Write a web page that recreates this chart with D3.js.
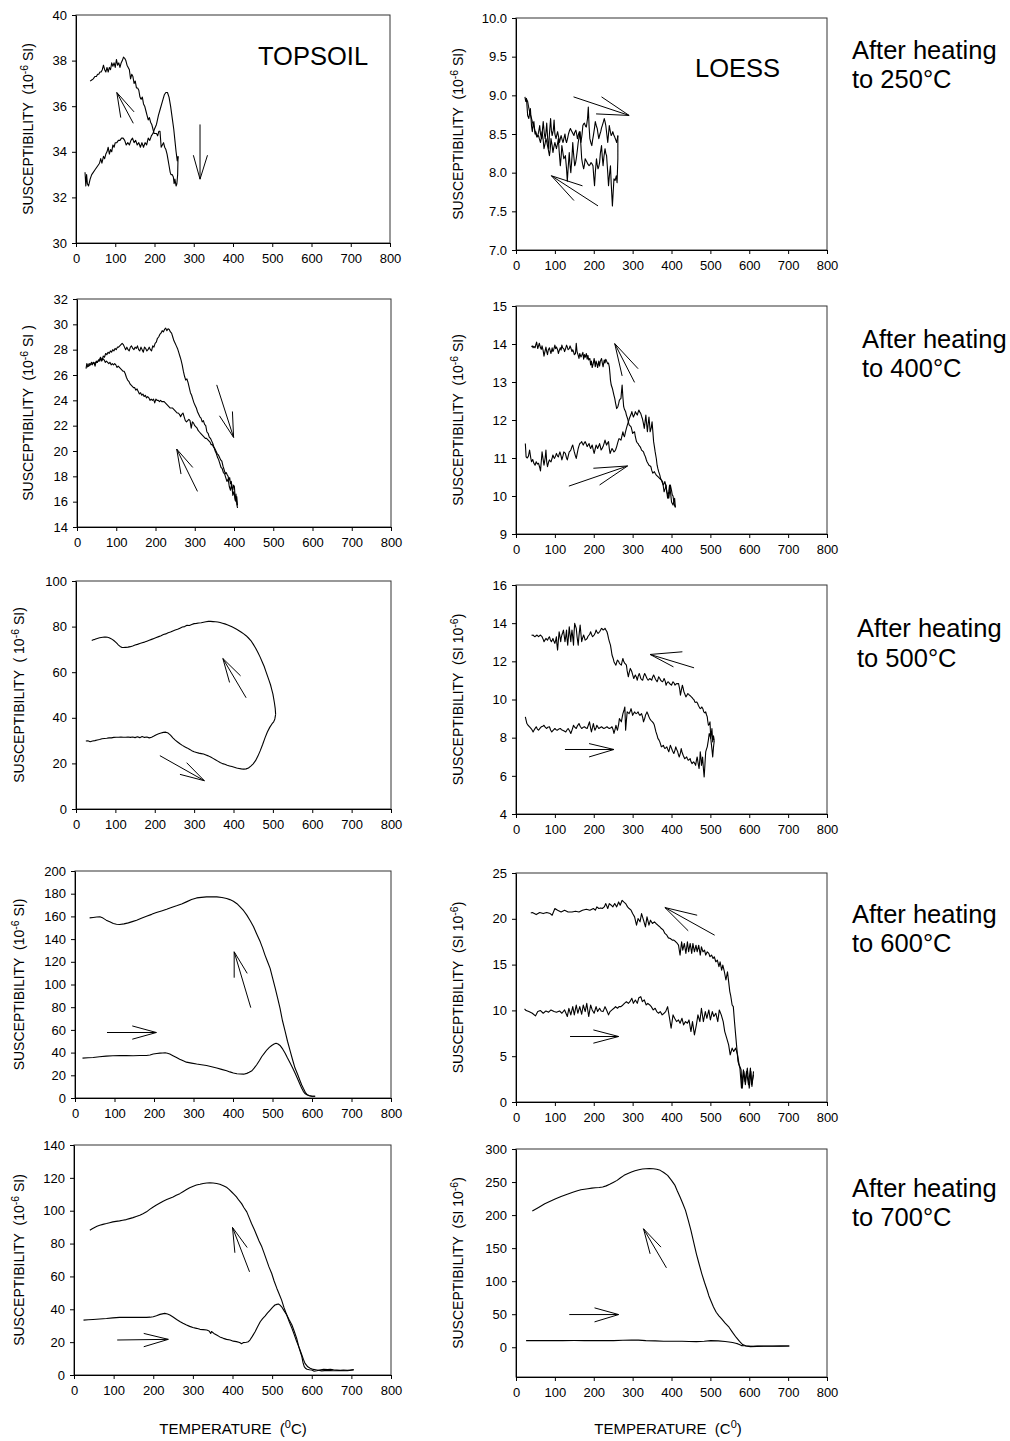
<!DOCTYPE html>
<html><head><meta charset="utf-8">
<script src="https://cdn.jsdelivr.net/npm/d3@7"></script>
<style>
html,body{margin:0;padding:0;background:#fff;}
svg text{font-family:"Liberation Sans",Arial,sans-serif;fill:#000;white-space:pre;}
</style></head>
<body>
<svg id="chart" width="1010" height="1441"></svg>
<script>
// ---------------- DATA (temperature °C, susceptibility) ----------------
const xTicks = [0,100,200,300,400,500,600,700,800];

const topsoil250Heating = [[23,33.1],[25,32.5],[27,33.0],[29,32.6],[32,32.5],[36,32.8],[40,33.0],[44,33.1],[48,33.2],[52,33.3],[56,33.4],[60,33.5],[63,33.7],[66,33.5],[70,33.8],[73,33.7],[76,33.9],[79,34.0],[82,34.2],[85,33.9],[88,34.1],[91,34.0],[94,34.3],[97,34.2],[100,34.4],[104,34.4],[108,34.5],[112,34.5],[116,34.6],[120,34.6],[124,34.5],[128,34.3],[132,34.4],[136,34.3],[140,34.5],[144,34.6],[148,34.4],[152,34.5],[156,34.3],[160,34.4],[164,34.2],[168,34.4],[172,34.2],[176,34.4],[180,34.3],[184,34.6],[188,34.5],[192,34.7],[196,34.8],[200,35.0],[205,35.2],[210,35.6],[215,35.9],[220,36.2],[225,36.5],[229,36.6],[233,36.6],[237,36.4],[241,36.0],[245,35.5],[249,35.0],[252,34.5],[255,34.0],[258,33.6],[260,33.8]];
const topsoil250Cooling = [[260,33.8],[259,33.0],[257,32.6],[255,32.5],[252,32.8],[250,32.6],[248,32.9],[245,33.0],[242,33.0],[240,33.1],[237,33.4],[235,33.6],[232,33.9],[229,34.1],[226,34.2],[223,34.4],[220,34.3],[217,34.2],[214,34.9],[211,34.9],[208,34.7],[205,34.8],[202,34.8],[199,34.8],[196,35.0],[193,35.2],[190,35.3],[187,35.5],[184,35.4],[181,35.6],[178,35.8],[175,36.0],[172,36.1],[169,36.4],[166,36.3],[163,36.4],[160,36.7],[157,36.8],[154,36.8],[151,37.1],[148,37.0],[145,37.3],[142,37.4],[139,37.2],[136,37.6],[133,37.7],[130,37.8],[127,38.0],[124,38.1],[121,38.15],[118,38.0],[115,37.9],[112,37.7],[109,37.9],[106,37.8],[103,38.05],[100,37.7],[97,37.9],[94,37.75],[91,37.9],[88,37.6],[85,37.7],[82,37.5],[79,37.7],[76,37.5],[73,37.6],[70,37.8],[67,37.6],[64,37.5],[61,37.5],[58,37.4],[55,37.4],[52,37.3],[48,37.3],[44,37.2],[40,37.15],[36,37.1]];
const topsoil250Arrows = [[[146,35.25],[104,36.6],[114,35.5],[148,35.75]],[[316,35.2],[316,32.8],[299,33.85],[335,33.85]]];
const topsoil250YTicks = [30,32,34,36,38,40];

const loess250Heating = [[23,8.98],[25,8.92],[27,8.96],[30,8.74],[33,8.7],[37,8.83],[40,8.6],[42,8.53],[44,8.62],[46,8.66],[49,8.5],[51,8.53],[54,8.47],[56,8.48],[58,8.52],[61,8.61],[63,8.5],[66,8.44],[68,8.55],[70,8.66],[73,8.5],[75,8.44],[77,8.52],[79,8.64],[82,8.4],[84,8.31],[86,8.5],[89,8.7],[91,8.55],[93,8.48],[96,8.55],[98,8.68],[100,8.5],[103,8.44],[105,8.49],[107,8.53],[110,8.45],[112,8.39],[114,8.44],[116,8.48],[119,8.42],[121,8.39],[124,8.46],[126,8.5],[128,8.42],[130,8.39],[133,8.45],[135,8.5],[138,8.55],[140,8.57],[142,8.55],[144,8.53],[147,8.5],[149,8.48],[151,8.52],[154,8.55],[156,8.5],[158,8.44],[161,8.5],[163,8.53],[165,8.45],[167,8.39],[170,8.5],[172,8.61],[174,8.63],[176,8.64],[179,8.6],[181,8.59],[184,8.7],[186,8.85],[188,8.6],[190,8.44],[193,8.38],[195,8.35],[197,8.42],[199,8.48],[202,8.58],[204,8.66],[207,8.6],[209,8.57],[211,8.5],[213,8.44],[216,8.5],[218,8.53],[220,8.58],[222,8.61],[225,8.66],[227,8.7],[229,8.66],[231,8.61],[234,8.48],[236,8.39],[238,8.5],[240,8.61],[243,8.52],[245,8.48],[247,8.5],[249,8.53],[252,8.48],[254,8.46],[257,8.42],[259,8.39],[262,8.48]];
const loess250Cooling = [[262,8.48],[262,8.18],[260,7.87],[258,7.96],[255,7.9],[252,7.92],[250,7.75],[248,7.57],[245,7.85],[243,8.09],[240,7.95],[238,7.83],[236,8.0],[233,8.22],[231,8.25],[229,8.31],[226,8.2],[224,8.09],[222,8.2],[220,8.35],[217,8.25],[215,8.13],[213,8.08],[211,8.05],[209,8.1],[207,8.18],[204,8.0],[202,7.83],[200,7.95],[198,8.09],[195,8.12],[193,8.13],[190,8.1],[188,8.09],[185,8.11],[183,8.13],[181,8.15],[178,8.18],[176,8.1],[174,8.05],[171,8.12],[169,8.18],[167,8.35],[165,8.53],[162,8.45],[160,8.39],[158,8.3],[155,8.18],[153,8.12],[151,8.09],[148,8.25],[146,8.39],[144,8.2],[141,8.0],[139,8.1],[137,8.26],[134,8.05],[132,7.89],[130,8.05],[127,8.22],[125,8.2],[123,8.18],[120,8.28],[118,8.35],[116,8.2],[114,8.09],[111,8.28],[109,8.44],[107,8.38],[104,8.31],[102,8.35],[100,8.39],[97,8.32],[95,8.26],[93,8.35],[90,8.44],[88,8.3],[86,8.22],[83,8.3],[81,8.35],[79,8.4],[77,8.44],[75,8.38],[72,8.31],[70,8.42],[67,8.53],[65,8.45],[63,8.39],[60,8.44],[58,8.48],[56,8.47],[54,8.46],[51,8.5],[49,8.53],[47,8.58],[45,8.61],[42,8.66],[40,8.7],[37,8.75],[35,8.79],[32,8.86],[30,8.92],[28,8.94],[26,8.96]];
const loess250Arrows = [[[148,8.98],[291,8.74],[220,8.98],[206,8.76]],[[211,7.57],[91,7.96],[171,7.83],[149,7.64]]];
const loess250YTicks = [7.0,7.5,8.0,8.5,9.0,9.5,10.0];

const topsoil400Heating = [[23,26.5],[25,26.9],[28,26.7],[31,26.9],[34,26.8],[37,27.0],[40,26.9],[43,27.0],[46,26.7],[49,27.1],[52,27.0],[55,27.2],[58,27.1],[61,27.3],[64,27.2],[67,27.5],[70,27.4],[73,27.7],[76,27.6],[79,27.8],[82,27.7],[85,27.9],[88,27.8],[91,28.0],[94,27.9],[97,28.1],[100,28.0],[103,28.2],[106,28.2],[109,28.3],[112,28.4],[115,28.5],[118,28.4],[121,28.2],[124,28.0],[127,28.2],[130,28.0],[133,27.9],[136,28.2],[139,28.3],[142,28.1],[145,28.0],[148,28.2],[151,28.1],[154,28.3],[157,28.0],[160,27.9],[163,28.2],[166,28.0],[169,27.8],[172,28.2],[175,28.1],[178,27.9],[181,28.0],[184,28.2],[187,28.0],[190,27.9],[193,28.3],[196,28.2],[199,28.5],[202,28.6],[205,28.9],[208,29.0],[211,29.2],[214,29.3],[217,29.5],[220,29.4],[223,29.6],[226,29.7],[229,29.5],[232,29.65],[235,29.6],[238,29.4],[241,29.3],[244,29.0],[247,28.7],[250,28.5],[253,28.3],[256,28.1],[259,27.8],[262,27.5],[265,27.2],[268,26.8],[271,26.3],[274,25.9],[277,25.6],[280,25.7],[283,25.4],[286,25.0],[289,24.6],[292,24.4],[295,24.1],[298,23.8],[301,23.6],[304,23.4],[307,23.1],[310,22.9],[313,22.7],[316,22.6],[319,22.3],[322,22.4],[325,22.1],[328,22.0],[331,21.5],[334,21.4],[337,21.1],[340,21.0],[343,20.8],[346,20.6],[349,20.3],[352,20.0],[355,19.8],[358,19.5],[361,19.3],[364,19.0],[367,18.7],[370,18.6],[373,18.3],[376,18.2],[379,17.9],[382,17.6],[385,17.8],[388,17.2],[391,16.9],[394,17.4],[397,16.5],[400,16.8],[403,16.1],[405,16.6],[407,15.8],[409,15.5]];
const topsoil400Cooling = [[409,15.7],[407,16.4],[405,16.0],[403,16.3],[401,17.2],[399,17.3],[397,16.9],[395,17.1],[393,17.6],[391,17.4],[389,17.9],[387,17.7],[385,18.0],[383,18.1],[380,18.3],[378,18.2],[375,18.5],[372,18.8],[369,19.2],[366,19.3],[363,19.5],[360,19.7],[357,19.8],[354,20.0],[351,20.2],[348,20.3],[345,20.5],[342,20.5],[339,20.7],[336,20.8],[333,20.9],[330,21.0],[327,21.0],[324,21.1],[321,21.2],[318,21.3],[315,21.4],[312,21.5],[309,21.6],[306,21.8],[303,21.9],[300,22.0],[297,22.2],[294,22.3],[291,21.8],[288,22.4],[285,22.5],[282,22.4],[279,22.3],[276,22.4],[273,22.7],[270,23.0],[267,22.9],[264,22.7],[261,22.9],[258,23.0],[255,23.0],[252,23.1],[249,23.2],[246,23.3],[243,23.4],[240,23.4],[237,23.4],[234,23.5],[231,23.6],[228,23.7],[225,23.8],[222,23.9],[219,23.9],[216,23.9],[213,24.0],[210,23.9],[207,24.0],[204,24.0],[201,24.1],[198,23.8],[195,24.1],[192,24.0],[189,24.1],[186,24.0],[183,24.2],[180,24.3],[177,24.2],[174,24.4],[171,24.3],[168,24.5],[165,24.4],[162,24.6],[159,24.5],[156,24.7],[153,24.9],[150,24.8],[147,25.0],[144,25.0],[141,25.1],[138,25.2],[135,25.3],[132,25.5],[129,25.6],[126,25.8],[123,26.1],[120,26.3],[117,26.3],[114,26.4],[111,26.5],[108,26.6],[105,26.7],[102,26.6],[99,26.8],[96,26.9],[93,26.8],[90,26.9],[87,26.8],[84,27.0],[81,26.9],[78,27.0],[75,27.1],[72,27.0],[69,27.2],[66,27.3],[63,27.1],[60,27.4],[57,27.2],[54,27.1],[51,27.0],[48,27.0],[45,26.9],[42,27.0],[39,26.8],[36,26.9],[33,26.8],[30,26.7],[27,26.7],[25,26.6]];
const topsoil400Arrows = [[[356,25.22],[399,21.07],[363,22.78],[396,23.12]],[[307,16.81],[254,20.15],[265,18.18],[295,18.7]]];
const topsoil400YTicks = [14,16,18,20,22,24,26,28,30,32];

const loess400Heating = [[24,11.38],[26,11.03],[29,11.0],[32,11.05],[35,11.21],[38,11.0],[40,10.9],[43,10.96],[46,10.86],[49,10.81],[52,10.9],[55,10.84],[58,10.86],[61,10.75],[63,10.66],[65,10.9],[67,11.16],[70,10.95],[72,10.81],[75,11.0],[77,11.21],[79,10.9],[81,10.77],[84,10.9],[86,10.95],[88,10.92],[90,10.9],[93,11.0],[95,11.08],[97,11.02],[99,10.99],[102,11.06],[104,11.12],[107,11.05],[109,11.03],[111,11.1],[113,11.16],[116,11.05],[118,10.95],[121,11.06],[123,11.16],[125,11.14],[127,11.12],[130,11.0],[132,10.95],[135,11.08],[137,11.16],[139,11.18],[141,11.21],[144,11.3],[146,11.34],[148,11.25],[150,11.16],[153,11.05],[155,10.99],[158,11.15],[160,11.25],[162,11.32],[164,11.38],[167,11.4],[169,11.43],[171,11.38],[173,11.34],[176,11.4],[178,11.43],[181,11.36],[183,11.3],[186,11.35],[188,11.38],[190,11.3],[192,11.25],[194,11.3],[196,11.34],[199,11.2],[201,11.12],[204,11.25],[206,11.34],[208,11.3],[210,11.25],[213,11.32],[215,11.38],[217,11.3],[219,11.21],[222,11.26],[224,11.3],[227,11.4],[229,11.47],[231,11.4],[233,11.34],[236,11.4],[238,11.43],[240,11.25],[242,11.12],[245,11.2],[247,11.25],[250,11.2],[252,11.16],[254,11.18],[256,11.21],[259,11.3],[261,11.38],[263,11.45],[265,11.51],[268,11.49],[270,11.47],[273,11.6],[275,11.69],[277,11.6],[279,11.56],[282,11.7],[284,11.78],[286,11.85],[289,11.95],[291,12.02],[293,12.08],[296,12.15],[298,12.22],[300,12.14],[302,12.08],[305,12.15],[307,12.22],[309,12.18],[312,12.13],[314,12.2],[316,12.26],[319,12.2],[321,12.17],[323,12.1],[325,12.04],[328,11.9],[330,11.78],[332,11.95],[334,12.13],[336,11.9],[338,11.69],[340,11.9],[342,12.08],[344,11.85],[345,11.69],[348,11.8],[350,11.95],[352,11.7],[354,11.43],[356,11.3],[358,11.16],[361,10.98],[363,10.81],[365,10.72],[367,10.64],[370,10.55],[372,10.46],[374,10.42],[377,10.38],[379,10.25],[381,10.11],[384,10.2],[386,10.29],[388,10.1],[390,9.94],[393,10.12],[395,10.29],[398,10.05],[400,9.85],[402,9.8],[404,9.76],[406,9.85],[408,9.94],[410,9.7]];
const loess400Cooling = [[410,9.7],[408,9.75],[406,9.85],[404,10.0],[402,10.03],[400,10.15],[397,10.29],[395,10.1],[393,9.94],[390,10.05],[388,10.11],[386,10.25],[383,10.38],[381,10.33],[379,10.29],[376,10.36],[374,10.42],[372,10.44],[370,10.46],[367,10.49],[365,10.51],[363,10.53],[361,10.55],[358,10.6],[356,10.64],[354,10.62],[352,10.6],[349,10.68],[347,10.77],[345,10.79],[342,10.81],[340,10.85],[337,10.9],[335,10.96],[333,11.03],[330,11.1],[328,11.16],[326,11.18],[323,11.21],[321,11.26],[319,11.3],[316,11.34],[314,11.38],[312,11.4],[310,11.43],[307,11.56],[305,11.69],[302,11.67],[300,11.65],[298,11.74],[296,11.82],[293,11.85],[291,11.87],[289,11.95],[287,12.04],[284,12.13],[282,12.22],[279,12.28],[277,12.35],[275,12.6],[273,12.92],[271,12.7],[270,12.57],[268,12.55],[266,12.52],[264,12.43],[262,12.35],[260,12.32],[259,12.3],[256,12.45],[254,12.57],[252,12.65],[250,12.74],[248,12.83],[245,12.92],[243,13.05],[242,13.18],[240,13.4],[238,13.5],[236,13.48],[233,13.55],[231,13.6],[229,13.5],[227,13.58],[224,13.4],[222,13.5],[220,13.62],[217,13.55],[215,13.42],[213,13.55],[210,13.38],[208,13.48],[206,13.55],[204,13.4],[201,13.62],[199,13.5],[196,13.38],[194,13.55],[192,13.45],[190,13.62],[187,13.58],[185,13.7],[183,13.6],[181,13.75],[178,13.65],[176,13.72],[174,13.6],[172,13.78],[169,13.7],[167,13.66],[164,13.75],[162,13.62],[160,13.7],[157,13.8],[155,14.02],[153,13.75],[150,13.72],[148,13.8],[146,13.85],[144,13.8],[141,13.9],[139,13.95],[137,13.88],[134,13.85],[132,13.92],[130,13.97],[127,13.86],[125,13.8],[123,13.87],[120,13.9],[118,13.97],[116,13.84],[114,13.9],[111,13.82],[109,13.75],[107,13.85],[104,13.92],[102,13.88],[100,13.97],[97,13.85],[95,13.8],[93,13.9],[90,13.75],[88,13.82],[86,13.9],[83,13.84],[81,13.72],[79,13.8],[77,13.92],[74,13.78],[72,13.68],[70,13.82],[67,13.95],[65,13.86],[63,13.9],[60,14.02],[58,13.95],[56,13.88],[53,14.05],[51,13.98],[49,13.9],[46,13.94],[44,13.9],[42,13.95],[40,13.92]];
const loess400Arrows = [[[305,12.99],[254,14.01],[273,13.16],[314,13.35]],[[136,10.26],[287,10.79],[199,10.73],[215,10.29]]];
const loess400YTicks = [9,10,11,12,13,14,15];

const topsoil500Heating = [[25,29.8],[30,29.9],[36,29.5],[42,29.8],[48,30.0],[54,30.3],[60,30.5],[66,30.8],[72,30.9],[78,31.0],[84,31.2],[90,31.2],[96,31.4],[102,31.5],[108,31.5],[114,31.6],[120,31.5],[126,31.5],[132,31.6],[138,31.4],[144,31.6],[150,31.3],[156,31.7],[162,31.3],[168,31.8],[174,31.4],[180,31.6],[186,31.2],[192,31.5],[198,32.0],[204,32.6],[210,33.0],[216,33.3],[222,33.6],[228,33.7],[234,33.3],[240,32.4],[246,31.2],[252,30.2],[258,29.4],[264,28.6],[270,27.9],[276,27.3],[282,26.8],[288,26.2],[294,25.6],[300,25.1],[306,24.8],[312,24.5],[318,24.3],[324,24.1],[330,23.7],[336,23.3],[342,22.8],[348,22.2],[354,21.6],[360,21.0],[366,20.4],[372,19.9],[378,19.6],[384,19.2],[390,18.9],[396,18.6],[402,18.3],[408,18.0],[414,17.8],[420,17.6],[426,17.5],[432,17.6],[438,18.0],[444,18.8],[450,19.8],[456,21.2],[462,23.2],[468,25.6],[474,28.3],[480,31.2],[486,33.8],[492,35.8],[498,37.4],[502,38.2],[505,39.5],[507,41.5]];
const topsoil500Cooling = [[507,41.5],[506,44.0],[504,46.5],[502,48.5],[500,50.5],[497,52.5],[494,54.5],[490,56.5],[486,58.5],[482,60.5],[478,62.5],[473,64.5],[468,66.5],[462,68.6],[456,70.6],[450,72.3],[444,73.9],[438,75.0],[432,76.0],[426,76.8],[420,77.5],[414,78.2],[408,78.8],[402,79.4],[396,79.9],[390,80.4],[384,80.8],[378,81.2],[372,81.5],[366,81.8],[360,82.0],[354,82.1],[348,82.2],[342,82.3],[336,82.3],[330,82.1],[324,81.9],[318,81.7],[312,81.6],[306,81.4],[300,81.3],[294,80.9],[288,80.5],[282,80.6],[276,80.0],[270,79.8],[264,79.3],[258,78.8],[252,78.5],[246,78.1],[240,77.6],[234,77.3],[228,76.8],[222,76.5],[216,76.0],[210,75.6],[204,75.2],[198,74.8],[192,74.4],[186,74.0],[180,73.6],[174,73.2],[168,72.9],[162,72.6],[156,72.2],[150,71.9],[144,71.5],[138,71.2],[132,71.0],[126,70.9],[120,70.8],[116,70.9],[112,71.3],[108,71.9],[104,72.6],[100,73.3],[96,73.9],[92,74.4],[88,74.8],[84,75.1],[80,75.3],[76,75.4],[72,75.4],[68,75.3],[64,75.2],[60,75.1],[56,74.9],[52,74.7],[48,74.4],[44,74.2],[40,73.9]];
const topsoil500Arrows = [[[432,48.8],[373,66.0],[390,55.5],[418,58.4]],[[213,23.4],[326,12.4],[264,15.2],[281,20.3]]];
const topsoil500YTicks = [0,20,40,60,80,100];

const loess500Heating = [[24,9.09],[28,8.74],[31,8.65],[35,8.57],[40,8.45],[44,8.3],[48,8.45],[52,8.57],[55,8.45],[58,8.39],[62,8.5],[65,8.57],[69,8.6],[72,8.65],[75,8.55],[79,8.48],[82,8.55],[86,8.57],[89,8.4],[92,8.3],[96,8.4],[100,8.48],[103,8.42],[106,8.39],[110,8.45],[114,8.48],[117,8.42],[120,8.39],[124,8.35],[128,8.3],[131,8.4],[134,8.48],[138,8.35],[141,8.22],[145,8.45],[148,8.65],[151,8.55],[155,8.48],[158,8.62],[162,8.74],[165,8.6],[169,8.48],[172,8.53],[176,8.57],[179,8.52],[183,8.48],[186,8.65],[189,8.83],[192,8.5],[194,8.3],[197,8.55],[199,8.74],[201,8.55],[203,8.39],[206,8.52],[208,8.65],[211,8.55],[213,8.48],[216,8.52],[220,8.57],[223,8.52],[226,8.48],[230,8.52],[234,8.57],[237,8.52],[240,8.48],[244,8.52],[247,8.57],[250,8.4],[252,8.22],[255,8.45],[257,8.65],[259,8.5],[261,8.39],[264,8.7],[266,9.0],[269,8.9],[271,8.83],[273,9.05],[275,9.26],[278,9.45],[280,9.61],[281,9.0],[282,8.39],[284,8.9],[286,9.35],[289,9.3],[291,9.26],[294,9.4],[296,9.52],[298,9.35],[300,9.17],[303,9.28],[305,9.35],[307,9.3],[309,9.26],[312,9.3],[314,9.35],[316,9.25],[319,9.17],[321,9.22],[323,9.26],[326,9.05],[328,8.83],[331,9.0],[333,9.17],[335,9.26],[337,9.35],[340,9.2],[342,9.09],[344,9.0],[347,8.91],[349,8.87],[351,8.83],[354,8.75],[356,8.65],[358,8.48],[360,8.3],[363,8.12],[365,7.96],[368,7.87],[370,7.78],[372,7.65],[374,7.52],[377,7.56],[379,7.6],[381,7.5],[383,7.43],[386,7.48],[388,7.52],[390,7.4],[393,7.26],[395,7.43],[397,7.6],[400,7.45],[402,7.34],[404,7.25],[406,7.17],[409,7.35],[411,7.52],[413,7.4],[416,7.26],[418,7.1],[420,6.99],[423,7.2],[425,7.43],[427,7.25],[430,7.08],[432,6.99],[434,6.9],[437,6.95],[439,6.99],[441,6.9],[443,6.82],[446,6.86],[448,6.9],[450,6.75],[453,6.64],[455,6.7],[457,6.73],[460,6.64],[462,6.55],[464,6.8],[466,6.99],[469,6.6],[471,6.38],[473,6.9],[474,7.26],[476,6.9],[477,6.55],[479,6.8],[480,6.99],[482,6.4],[484,5.94],[486,6.6],[488,7.26],[490,7.4],[492,7.52],[495,7.9],[497,8.22],[499,8.1],[501,7.96],[504,7.4],[506,6.99],[508,7.5],[510,7.85]];
const loess500Cooling = [[510,7.85],[508,8.1],[506,7.78],[504,8.48],[501,7.96],[499,8.83],[497,8.7],[495,8.65],[493,8.9],[492,9.09],[490,9.2],[488,9.35],[486,9.3],[483,9.35],[481,9.5],[478,9.61],[476,9.55],[474,9.52],[471,9.62],[469,9.7],[467,9.8],[465,9.87],[462,9.85],[460,9.87],[458,9.98],[455,10.05],[453,10.1],[451,10.14],[448,10.2],[446,10.23],[444,10.28],[442,10.31],[439,10.2],[437,10.14],[434,10.3],[432,10.4],[430,10.6],[428,10.75],[425,10.45],[423,10.23],[421,10.55],[418,10.84],[416,10.82],[414,10.84],[411,10.8],[409,10.75],[407,10.85],[404,10.93],[402,10.85],[400,10.75],[397,10.8],[395,10.84],[393,10.9],[391,10.93],[388,10.85],[386,10.75],[384,10.95],[381,11.1],[379,11.0],[377,10.93],[374,10.97],[372,11.01],[370,11.1],[367,11.19],[365,11.05],[363,10.93],[360,11.02],[358,11.1],[356,11.2],[354,11.28],[351,11.15],[349,11.01],[347,11.05],[344,11.1],[342,11.05],[340,11.01],[337,11.1],[335,11.19],[333,11.28],[331,11.36],[328,11.2],[326,11.01],[323,11.05],[321,11.1],[319,11.25],[317,11.36],[314,11.2],[312,11.01],[310,11.15],[307,11.28],[305,11.2],[303,11.1],[300,11.3],[298,11.45],[296,11.55],[294,11.63],[291,11.4],[289,11.19],[286,11.5],[284,11.8],[282,11.85],[280,11.89],[277,12.0],[275,12.15],[273,12.0],[271,11.8],[268,11.85],[266,11.89],[264,12.0],[261,12.06],[259,11.95],[257,11.8],[254,11.9],[252,11.98],[250,12.15],[247,12.33],[245,12.6],[243,12.85],[240,13.05],[238,13.2],[236,13.4],[234,13.55],[231,13.65],[229,13.73],[227,13.68],[224,13.64],[222,13.7],[220,13.73],[217,13.62],[215,13.55],[213,13.5],[211,13.46],[208,13.55],[206,13.64],[204,13.5],[201,13.38],[199,13.33],[197,13.29],[194,13.42],[192,13.55],[190,13.45],[188,13.38],[185,13.3],[183,13.2],[181,13.15],[178,13.11],[176,13.25],[174,13.38],[171,13.2],[169,13.03],[167,13.45],[165,13.9],[162,13.35],[160,12.85],[157,13.3],[155,13.73],[153,13.85],[151,13.99],[149,13.4],[148,12.85],[146,13.25],[144,13.64],[142,13.3],[141,13.03],[139,13.4],[137,13.81],[135,13.3],[133,12.85],[131,13.25],[130,13.64],[128,13.3],[126,13.03],[124,13.35],[122,13.64],[120,13.5],[118,13.38],[116,13.2],[115,13.03],[113,13.3],[111,13.55],[109,13.1],[107,12.59],[105,12.95],[104,13.29],[102,13.1],[100,12.94],[97,13.08],[95,13.2],[93,13.1],[91,13.03],[88,13.15],[86,13.29],[83,13.2],[81,13.11],[79,13.15],[77,13.2],[74,13.1],[72,13.03],[70,13.15],[67,13.29],[65,13.33],[63,13.38],[60,13.33],[58,13.29],[56,13.33],[54,13.38],[51,13.33],[49,13.29],[46,13.33],[44,13.38],[42,13.36],[40,13.38]];
const loess500Arrows = [[[458,11.66],[345,12.36],[405,11.71],[428,12.5]],[[126,7.38],[252,7.38],[188,7.69],[188,6.99]]];
const loess500YTicks = [4,6,8,10,12,14,16];

const topsoil600Heating = [[19,35.1],[33,35.4],[46,35.7],[62,36.3],[79,36.9],[96,37.2],[113,37.5],[130,37.3],[147,37.2],[164,37.4],[181,37.5],[190,37.9],[198,38.7],[207,39.2],[215,39.5],[222,39.7],[228,39.8],[234,39.4],[240,38.7],[248,37.3],[257,35.7],[265,34.2],[274,32.8],[282,31.6],[295,30.7],[308,29.9],[320,29.3],[333,28.7],[346,27.6],[359,26.4],[371,25.2],[384,24.0],[392,23.0],[401,22.0],[410,21.4],[418,21.1],[427,21.0],[435,21.7],[441,22.6],[448,24.0],[454,26.5],[460,29.3],[467,33.0],[473,36.6],[480,39.8],[486,42.5],[492,44.6],[498,46.3],[504,47.5],[509,48.3],[514,47.6],[519,46.3],[526,43.0],[532,39.5],[538,35.2],[545,30.7],[551,26.5],[557,22.0],[564,16.5],[570,11.7],[574,8.5],[578,5.9],[582,4.0],[587,2.9],[593,2.0],[600,1.5],[608,1.5]];
const topsoil600Cooling = [[608,1.5],[600,1.6],[592,2.2],[587,3.2],[583,5.0],[578,8.5],[574,11.5],[570,15.0],[564,20.5],[557,26.4],[551,33.5],[545,41.0],[538,50.0],[532,58.6],[525,68.5],[519,79.1],[513,88.0],[507,96.6],[500,106.0],[494,114.2],[487,120.5],[481,125.9],[475,132.0],[469,137.6],[460,144.5],[452,150.8],[444,156.0],[435,161.1],[427,165.0],[418,168.4],[410,171.2],[401,173.4],[392,174.8],[384,175.7],[372,176.6],[359,177.2],[346,177.3],[333,177.2],[320,176.8],[308,176.3],[295,174.8],[282,172.8],[270,171.0],[257,169.3],[244,167.8],[232,166.3],[219,164.8],[206,163.4],[194,161.8],[181,160.2],[168,158.4],[156,156.7],[145,155.4],[135,154.3],[124,153.4],[113,152.9],[105,153.1],[97,153.7],[88,155.2],[79,156.7],[71,158.5],[63,159.6],[55,159.5],[46,159.1],[37,158.7]];
const topsoil600Arrows = [[[445,79.6],[403,128.8],[403,106.0],[436,109.8]],[[81,57.7],[206,57.7],[145,63.5],[145,51.8]]];
const topsoil600YTicks = [0,20,40,60,80,100,120,140,160,180,200];

const loess600Heating = [[22,10.16],[26,9.98],[33,9.87],[42,9.69],[50,9.4],[56,9.87],[63,9.98],[70,9.69],[77,9.94],[84,9.8],[90,10.05],[98,9.87],[104,9.8],[112,9.94],[118,9.69],[125,10.05],[132,9.33],[136,10.23],[141,9.51],[146,10.41],[150,9.51],[155,10.59],[159,9.69],[164,10.41],[169,9.58],[173,10.59],[178,9.87],[182,10.77],[187,9.33],[192,10.59],[196,10.05],[201,9.69],[206,10.41],[210,9.87],[215,10.23],[219,9.94],[224,9.87],[229,10.41],[233,10.05],[238,9.51],[242,9.87],[247,10.05],[252,10.23],[256,10.41],[261,10.23],[265,10.41],[270,10.41],[275,10.59],[279,10.77],[284,10.95],[289,10.77],[293,10.95],[298,11.32],[302,10.77],[307,11.14],[312,10.77],[316,11.39],[321,11.5],[325,10.95],[330,11.14],[335,10.59],[339,10.77],[344,10.59],[348,10.41],[353,10.05],[358,10.23],[362,9.87],[367,9.69],[371,9.87],[376,9.51],[381,9.69],[385,9.87],[390,10.41],[395,9.14],[399,8.05],[404,9.51],[408,9.14],[413,8.78],[418,8.96],[422,8.6],[427,9.14],[431,8.42],[436,8.78],[441,8.6],[445,8.96],[450,7.69],[454,8.78],[459,7.33],[464,8.42],[468,9.51],[473,8.78],[477,10.23],[482,8.78],[487,9.87],[491,9.14],[496,10.05],[500,8.96],[505,9.87],[509,9.33],[514,9.69],[519,8.78],[523,10.05],[528,9.51],[533,8.78],[537,7.69],[542,6.97],[547,6.24],[551,5.15],[556,5.88],[560,5.52],[565,5.88],[570,5.15],[574,4.06],[579,3.52],[582,1.52],[586,3.34],[590,1.89],[595,3.7],[600,1.52],[604,3.34],[607,1.7],[611,3.34]];
const loess600Cooling = [[611,2.98],[606,1.89],[603,3.7],[598,1.89],[593,3.34],[589,2.25],[585,3.52],[580,1.52],[576,3.7],[571,4.43],[568,5.88],[565,7.33],[562,8.78],[559,10.41],[556,10.59],[552,11.68],[550,12.05],[547,13.14],[544,14.22],[540,13.32],[536,14.22],[532,14.95],[529,14.4],[525,15.31],[522,14.77],[518,15.49],[514,15.31],[510,15.86],[507,15.67],[503,16.04],[499,15.86],[496,16.22],[492,16.4],[488,16.04],[485,16.58],[481,16.4],[477,16.94],[474,16.04],[470,17.12],[466,16.4],[463,17.12],[459,16.4],[455,17.31],[452,16.22],[448,17.31],[444,16.4],[441,17.49],[437,16.22],[433,17.31],[429,16.58],[426,17.49],[422,16.04],[418,17.12],[415,17.31],[411,17.49],[406,17.67],[402,17.67],[397,17.85],[392,17.92],[388,18.21],[383,18.4],[379,18.76],[374,18.94],[370,19.12],[365,19.3],[360,19.49],[356,19.67],[351,19.49],[346,19.85],[342,19.3],[337,20.21],[333,19.12],[328,19.85],[323,20.57],[319,19.67],[314,20.03],[310,19.3],[305,20.21],[300,20.57],[296,20.94],[291,21.12],[287,21.3],[282,21.66],[277,21.84],[273,22.02],[268,21.48],[264,21.84],[259,21.3],[254,21.66],[249,21.3],[245,21.48],[240,21.66],[236,21.12],[231,21.66],[227,21.3],[222,21.12],[218,21.19],[213,21.12],[208,21.3],[204,20.94],[199,21.12],[190,20.94],[181,21.05],[171,20.94],[162,20.75],[153,20.83],[144,20.75],[134,20.75],[125,20.94],[116,20.75],[107,20.94],[100,21.12],[93,20.39],[88,20.57],[79,20.68],[70,20.57],[61,20.68],[52,20.46],[42,20.68],[38,20.64]];
const loess600Arrows = [[[511,18.21],[383,21.23],[443,18.69],[466,20.39]],[[139,7.15],[264,7.15],[199,7.87],[199,6.42]]];
const loess600YTicks = [0,5,10,15,20,25];

const topsoil700Heating = [[24,33.4],[36,33.6],[48,33.8],[65,34.1],[82,34.4],[98,34.8],[115,35.1],[132,35.1],[149,35.1],[166,35.1],[183,35.1],[192,35.2],[200,35.5],[208,36.1],[217,36.9],[223,37.2],[229,37.5],[236,37.1],[242,36.5],[250,35.3],[259,33.8],[267,32.6],[275,31.5],[284,30.4],[292,29.6],[300,28.9],[309,28.4],[318,27.8],[326,27.6],[335,27.4],[341,26.8],[345,25.3],[347,26.5],[353,25.3],[360,24.3],[368,23.2],[377,22.3],[385,21.7],[394,21.3],[402,20.6],[410,20.3],[418,19.8],[423,19.0],[427,19.7],[435,19.9],[440,20.3],[444,21.3],[450,23.5],[457,26.3],[463,29.2],[470,32.4],[476,34.3],[482,35.9],[488,37.6],[495,39.5],[501,41.2],[507,42.6],[512,43.0],[516,43.2],[520,42.5],[524,41.5],[530,39.2],[537,36.5],[543,33.6],[550,30.4],[556,26.5],[562,22.3],[568,16.5],[575,11.2],[578,7.5],[581,5.1],[585,3.9],[588,3.5],[594,3.2],[600,3.0],[606,2.3],[613,2.6],[620,3.0],[630,3.5],[640,3.3],[647,3.5],[655,3.2],[663,3.0],[672,2.8],[680,3.0],[690,2.8],[697,3.0],[706,3.3]];
const topsoil700Cooling = [[706,3.0],[690,2.6],[672,2.7],[655,2.6],[640,2.8],[625,2.5],[613,3.0],[604,3.4],[596,4.1],[590,5.0],[583,7.1],[579,9.5],[575,12.2],[569,16.2],[562,20.3],[556,24.4],[550,28.4],[543,32.5],[537,36.5],[530,41.0],[524,45.6],[518,49.2],[512,52.7],[505,57.2],[499,61.8],[492,65.8],[486,69.9],[480,74.0],[474,78.0],[467,81.6],[461,85.1],[455,88.6],[448,92.2],[442,95.8],[436,99.3],[429,101.8],[423,104.3],[416,106.4],[410,108.4],[404,110.0],[398,111.4],[392,112.8],[386,114.1],[377,115.2],[368,116.1],[360,116.6],[351,116.9],[343,117.0],[335,116.9],[326,116.6],[318,116.1],[309,115.6],[301,114.9],[292,114.0],[284,112.9],[275,111.6],[267,110.4],[258,109.4],[250,108.4],[242,107.6],[234,106.8],[225,105.8],[217,104.7],[208,103.5],[200,102.3],[191,100.8],[183,99.3],[174,98.2],[166,97.3],[157,96.5],[149,95.8],[140,95.2],[132,94.6],[123,94.2],[115,93.8],[106,93.5],[98,93.2],[90,92.7],[82,92.2],[73,91.7],[65,91.2],[58,90.5],[52,89.8],[46,89.0],[40,88.1]];
const topsoil700Arrows = [[[443,62.8],[400,89.8],[406,74.4],[437,77.6]],[[109,21.3],[238,21.7],[176,25.3],[176,17.2]]];
const topsoil700YTicks = [0,20,40,60,80,100,120,140];

const loess700Heating = [[26,10.1],[50,10.0],[84,10.1],[120,10.0],[150,10.2],[176,10.1],[210,10.0],[251,10.1],[275,10.6],[297,11.1],[315,10.8],[334,10.1],[358,9.6],[380,9.1],[405,9.0],[427,9.1],[445,8.8],[464,8.6],[484,9.2],[501,10.1],[520,9.6],[538,8.6],[548,8.0],[557,7.1],[565,6.0],[571,5.1],[576,3.8],[580,2.5],[587,2.2],[594,2.0],[610,1.6],[622,2.0],[640,1.8],[659,2.0],[680,1.9],[703,2.0]];
const loess700Cooling = [[703,2.0],[680,1.7],[660,1.5],[640,1.5],[620,1.3],[603,1.0],[592,1.8],[583,4.0],[575,9.0],[566,15.2],[557,22.5],[548,30.3],[538,36.5],[529,42.9],[522,47.5],[515,53.0],[508,61.0],[501,70.7],[496,78.0],[492,85.9],[485,98.0],[478,111.1],[471,126.0],[464,141.4],[457,159.0],[450,176.8],[443,192.5],[436,207.1],[429,217.5],[422,227.3],[415,236.5],[409,244.9],[400,252.5],[390,260.1],[380,264.5],[371,267.7],[362,269.3],[353,270.2],[343,270.5],[334,270.2],[325,269.7],[316,268.7],[306,267.2],[297,265.2],[288,262.9],[278,260.1],[269,256.5],[260,252.5],[250,249.3],[241,246.5],[232,244.2],[223,242.4],[214,241.8],[204,241.4],[195,240.8],[185,239.9],[176,239.2],[167,238.4],[158,236.8],[148,234.8],[139,233.1],[130,231.3],[116,228.2],[102,224.7],[88,221.0],[74,217.2],[58,211.6],[42,206.1]];
const loess700Arrows = [[[387,120.2],[328,179.3],[345,141.4],[373,151.5]],[[137,49.5],[264,49.5],[202,59.6],[202,38.4]]];
const loess700YTicks = [0,50,100,150,200,250,300];

// ---------------- PANELS (layout & labels) ----------------
const panels = [
  {heat:topsoil250Heating, cool:topsoil250Cooling, arrows:topsoil250Arrows, yTicks:topsoil250YTicks, yDom:[30,40], fmt:"d",
   box:[76,390,15,243], labX:33, unit:["(10","-6"," SI)"]},
  {heat:loess250Heating, cool:loess250Cooling, arrows:loess250Arrows, yTicks:loess250YTicks, yDom:[7,10], fmt:".1f",
   box:[516,827,18,250], labX:463, unit:["(10","-6"," SI)"]},
  {heat:topsoil400Heating, cool:topsoil400Cooling, arrows:topsoil400Arrows, yTicks:topsoil400YTicks, yDom:[14,32], fmt:"d",
   box:[77,391,299,527], labX:33, unit:["(10","-6"," SI )"]},
  {heat:loess400Heating, cool:loess400Cooling, arrows:loess400Arrows, yTicks:loess400YTicks, yDom:[9,15], fmt:"d",
   box:[516,827,306,534], labX:463, unit:["(10","-6"," SI)"]},
  {heat:topsoil500Heating, cool:topsoil500Cooling, arrows:topsoil500Arrows, yTicks:topsoil500YTicks, yDom:[0,100], fmt:"d",
   box:[76,391,581,809], labX:24, unit:["( 10","-6"," SI)"]},
  {heat:loess500Heating, cool:loess500Cooling, arrows:loess500Arrows, yTicks:loess500YTicks, yDom:[4,16], fmt:"d",
   box:[516,827,585,814], labX:463, unit:["(SI 10","-6",")"]},
  {heat:topsoil600Heating, cool:topsoil600Cooling, arrows:topsoil600Arrows, yTicks:topsoil600YTicks, yDom:[0,200], fmt:"d",
   box:[75,391,871,1098], labX:24, unit:["(10","-6"," SI)"]},
  {heat:loess600Heating, cool:loess600Cooling, arrows:loess600Arrows, yTicks:loess600YTicks, yDom:[0,25], fmt:"d",
   box:[516,827,873,1102], labX:463, unit:["(SI 10","-6",")"]},
  {heat:topsoil700Heating, cool:topsoil700Cooling, arrows:topsoil700Arrows, yTicks:topsoil700YTicks, yDom:[0,140], fmt:"d",
   box:[74,391,1145,1375], labX:24, unit:["(10","-6"," SI)"]},
  {heat:loess700Heating, cool:loess700Cooling, arrows:loess700Arrows, yTicks:loess700YTicks, yDom:[-45,300], fmt:"d",
   box:[516,827,1149,1377], labX:463, unit:["(SI 10","-6",")"]}
];

const headings = [
  {text:"After heating", x:852, y:59},  {text:"to 250°C", x:852, y:88},
  {text:"After heating", x:862, y:348}, {text:"to 400°C", x:862, y:377},
  {text:"After heating", x:857, y:637}, {text:"to 500°C", x:857, y:667},
  {text:"After heating", x:852, y:923}, {text:"to 600°C", x:852, y:952},
  {text:"After heating", x:852, y:1197},{text:"to 700°C", x:852, y:1226}
];

// ---------------- DRAW ----------------
const svg = d3.select("#chart");

panels.forEach(p => {
  const [x0,x1,y0,y1] = p.box;
  const x = d3.scaleLinear().domain([0,800]).range([x0,x1]);
  const y = d3.scaleLinear().domain(p.yDom).range([y1,y0]);
  const g = svg.append("g");

  g.append("rect").attr("x",x0).attr("y",y0).attr("width",x1-x0).attr("height",y1-y0)
    .attr("fill","none").attr("stroke","#333").attr("stroke-width",1);

  const ax = g.append("g").attr("transform",`translate(0,${y1})`)
    .call(d3.axisBottom(x).tickValues(xTicks).tickFormat(d3.format("d")).tickSize(4).tickSizeOuter(0).tickPadding(7));
  const ay = g.append("g").attr("transform",`translate(${x0},0)`)
    .call(d3.axisLeft(y).tickValues(p.yTicks).tickFormat(d3.format(p.fmt)).tickSize(4).tickSizeOuter(0).tickPadding(5));
  [ax,ay].forEach(a => {
    a.selectAll("text").attr("font-size",13).attr("font-family","Liberation Sans, Arial, sans-serif").attr("fill","#000");
    a.selectAll("line").attr("stroke","#000");
    a.select(".domain").attr("stroke","#000");
  });

  const line = d3.line().x(d => x(d[0])).y(d => y(d[1]));
  [p.heat, p.cool].forEach(s => {
    g.append("path").attr("d", line(s)).attr("fill","none")
      .attr("stroke","#000").attr("stroke-width",1.1).attr("stroke-linejoin","round");
  });

  p.arrows.forEach(a => {
    const [tail, head, b1, b2] = a;
    [tail, b1, b2].forEach(pt => {
      g.append("line").attr("x1",x(pt[0])).attr("y1",y(pt[1]))
        .attr("x2",x(head[0])).attr("y2",y(head[1]))
        .attr("stroke","#000").attr("stroke-width",1);
    });
  });

  // y-axis title
  const cy = (y0+y1)/2;
  const t = g.append("text").attr("transform",`translate(${p.labX},${cy}) rotate(-90)`)
    .attr("text-anchor","middle").attr("font-size",14).attr("xml:space","preserve");
  t.append("tspan").text("SUSCEPTIBILITY  " + p.unit[0]);
  t.append("tspan").attr("font-size",10.5).attr("dy",-5).text(p.unit[1]);
  t.append("tspan").attr("dy",5).text(p.unit[2]);
});

// panel titles
svg.append("text").attr("x",258).attr("y",65).attr("font-size",25.5).text("TOPSOIL");
svg.append("text").attr("x",695).attr("y",77).attr("font-size",25.5).text("LOESS");

headings.forEach(h => {
  svg.append("text").attr("x",h.x).attr("y",h.y).attr("font-size",25.5).text(h.text);
});

// x-axis titles
const xl = svg.append("text").attr("x",233).attr("y",1434).attr("text-anchor","middle").attr("font-size",15).attr("xml:space","preserve");
xl.append("tspan").text("TEMPERATURE  (");
xl.append("tspan").attr("font-size",11).attr("dy",-6).text("0");
xl.append("tspan").attr("dy",6).text("C)");

const xr = svg.append("text").attr("x",668).attr("y",1434).attr("text-anchor","middle").attr("font-size",15).attr("xml:space","preserve");
xr.append("tspan").text("TEMPERATURE  (C");
xr.append("tspan").attr("font-size",11).attr("dy",-6).text("0");
xr.append("tspan").attr("dy",6).text(")");
</script>
</body></html>
